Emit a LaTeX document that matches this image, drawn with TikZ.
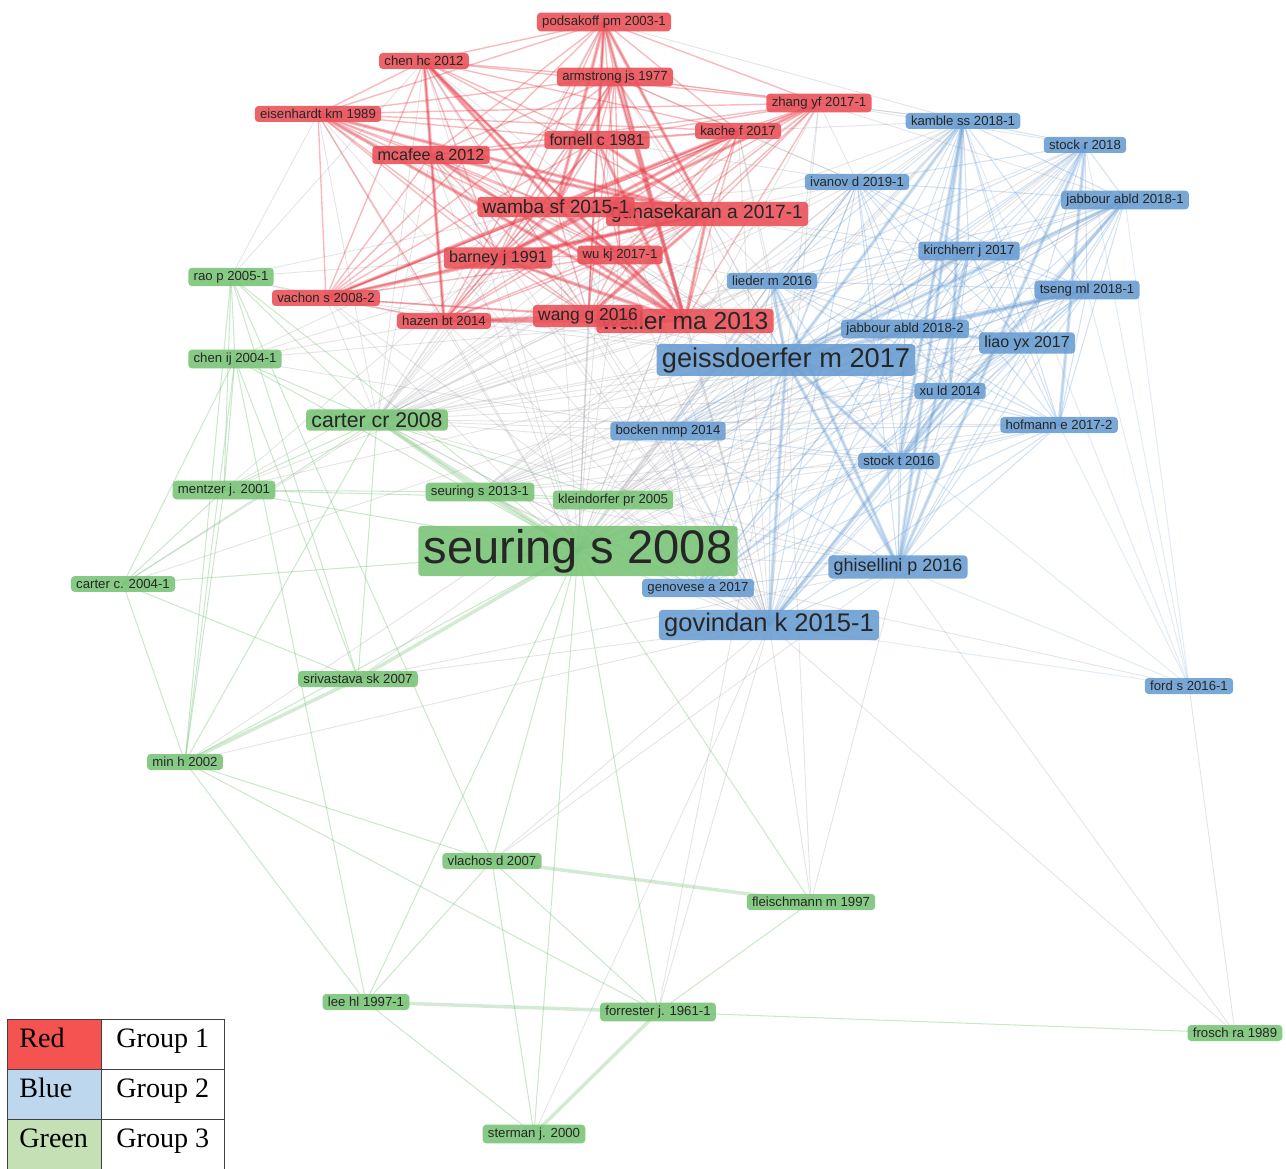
\documentclass[tikz,border=0pt]{standalone}
\usepackage{fontspec}
\setmainfont{Liberation Serif}
\newfontfamily\lblfont{Liberation Sans}
\usetikzlibrary{backgrounds}
\definecolor{redfill}{RGB}{234,82,90}
\definecolor{bluefill}{RGB}{106,158,211}
\definecolor{greenfill}{RGB}{122,196,120}
\definecolor{redline}{RGB}{232,66,78}
\definecolor{blueline}{RGB}{95,150,208}
\definecolor{greenline}{RGB}{110,190,110}
\definecolor{greyline}{RGB}{165,165,172}
\definecolor{legred}{RGB}{245,82,82}
\definecolor{legblue}{RGB}{189,215,238}
\definecolor{leggreen}{RGB}{197,224,180}
\newcommand\redset{pod,chenhc,arm,zhang,eis,kache,fornell,mcafee,guna,wamba,barney,wukj,vachon,hazen,waller,wang}
\newcommand\blueset{kamble,stockr,ivanov,jab1,kirch,lieder,tseng,jab2,liao,geiss,xuld,hofmann,bocken,stockt,ghis,genov,govind}
\begin{document}
\begin{tikzpicture}[
  x=0.02cm, y=-0.02cm,
  paper/.style={rounded corners=2pt, inner xsep=3pt, inner ysep=1.8pt,
    text=black!85, fill opacity=0.9, text opacity=1},
  fs/.style={font=\lblfont\fontsize{#1}{#1}\selectfont},
  rp/.style={paper, fill=redfill, fs=#1}, rp/.default=7.5,
  bp/.style={paper, fill=bluefill, fs=#1}, bp/.default=7.5,
  gp/.style={paper, fill=greenfill, fs=#1}, gp/.default=7.5,
  redlink/.style={draw=redline, line width=0.8pt, draw opacity=0.36},
  bluelink/.style={draw=blueline, line width=0.6pt, draw opacity=0.28},
  greenlink/.style={draw=greenline, line width=0.6pt, draw opacity=0.35},
  greylink/.style={draw=greyline, line width=0.5pt, draw opacity=0.3},
  wide/.style={line width=2pt},
  cell/.style={draw=black!75, line width=0.7pt, inner sep=0pt, minimum height=1cm, anchor=north west},
  legfont/.style={font=\fontsize{16}{16}\selectfont, inner sep=0pt, anchor=base west}
  ]
  \useasboundingbox (0,0) rectangle (1286,1169);

  % group 1
  \node[rp] (pod) at (604,22) {podsakoff pm 2003-1};
  \node[rp] (chenhc) at (424,61) {chen hc 2012};
  \node[rp] (arm) at (615,77) {armstrong js 1977};
  \node[rp] (zhang) at (819,103) {zhang yf 2017-1};
  \node[rp] (eis) at (318,114) {eisenhardt km 1989};
  \node[rp] (kache) at (738,131) {kache f 2017};
  \node[rp=9] (fornell) at (597,140) {fornell c 1981};
  \node[rp=9.2] (mcafee) at (431,155) {mcafee a 2012};
  \node[rp=10.9] (guna) at (707,214) {gunasekaran a 2017-1};
  \node[rp=10.9] (wamba) at (556,207) {wamba sf 2015-1};
  \node[rp=9.2] (barney) at (498,258) {barney j 1991};
  \node[rp] (wukj) at (620,255) {wu kj 2017-1};
  \node[rp] (vachon) at (326,298) {vachon s 2008-2};
  \node[rp] (hazen) at (444,321) {hazen bt 2014};
  \node[rp=14] (waller) at (685,321) {waller ma 2013};
  \node[rp=9.9] (wang) at (588,316) {wang g 2016};

  % group 2
  \node[bp] (kamble) at (963,121) {kamble ss 2018-1};
  \node[bp] (stockr) at (1085,145) {stock r 2018};
  \node[bp] (ivanov) at (857,182) {ivanov d 2019-1};
  \node[bp] (jab1) at (1125,200) {jabbour abld 2018-1};
  \node[bp] (kirch) at (969,251) {kirchherr j 2017};
  \node[bp] (lieder) at (772,281) {lieder m 2016};
  \node[bp] (tseng) at (1087,290) {tseng ml 2018-1};
  \node[bp] (jab2) at (905,329) {jabbour abld 2018-2};
  \node[bp=9.1] (liao) at (1027,343) {liao yx 2017};
  \node[bp=15.5] (geiss) at (786,360) {geissdoerfer m 2017};
  \node[bp] (xuld) at (950,391) {xu ld 2014};
  \node[bp] (hofmann) at (1059,425) {hofmann e 2017-2};
  \node[bp] (bocken) at (668,431) {bocken nmp 2014};
  \node[bp] (stockt) at (899,461) {stock t 2016};
  \node[bp=10.2] (ghis) at (898,567) {ghisellini p 2016};
  \node[bp=14.5] (govind) at (769,625) {govindan k 2015-1};
  \node[bp] (ford) at (1189,686) {ford s 2016-1};

  % group 3
  \node[gp] (rao) at (231,277) {rao p 2005-1};
  \node[gp] (chenij) at (235,359) {chen ij 2004-1};
  \node[gp=12.1] (cartercr) at (377,420) {carter cr 2008};
  \node[gp] (mentzer) at (224,490) {mentzer j. 2001};
  \node[gp] (seu13) at (480,492) {seuring s 2013-1};
  \node[gp] (kleind) at (613,500) {kleindorfer pr 2005};
  \node[gp=26.8] (seu08) at (578,551) {seuring s 2008};
  \node[bp] (genov) at (698,588) {genovese a 2017};
  \node[gp] (carterc) at (123,584) {carter c. 2004-1};
  \node[gp] (sriv) at (358,679) {srivastava sk 2007};
  \node[gp] (minh) at (185,762) {min h 2002};
  \node[gp] (vlachos) at (492,861) {vlachos d 2007};
  \node[gp] (fleisch) at (811,902) {fleischmann m 1997};
  \node[gp] (leehl) at (366,1002) {lee hl 1997-1};
  \node[gp] (forrest) at (658,1012) {forrester j. 1961-1};
  \node[gp] (frosch) at (1235,1033) {frosch ra 1989};
  \node[gp] (sterman) at (534,1134) {sterman j. 2000};

  \begin{pgfonlayer}{background}
    % links between groups
    \foreach \a in {seu08,cartercr,geiss,govind}
      \foreach \b in \redset
        \draw[greylink] (\a.center) -- (\b.center);
    \foreach \a in {seu08,cartercr,seu13,kleind}
      \foreach \b in \blueset
        \draw[greylink] (\a.center) -- (\b.center);
    \foreach \a/\b in {rao/vachon, rao/hazen, rao/barney, rao/wamba, rao/eis, rao/chenhc,
        chenij/wamba, chenij/guna, chenij/waller, chenij/hazen, mentzer/guna, mentzer/geiss,
        carterc/geiss, sriv/govind, sriv/geiss, vlachos/govind, vlachos/ghis, fleisch/govind,
        fleisch/geiss, fleisch/ghis, forrest/govind, forrest/geiss, sterman/govind,
        frosch/ghis, frosch/ford, frosch/govind, minh/geiss, guna/lieder, guna/kamble,
        guna/ivanov, guna/kirch, guna/tseng, waller/kamble, waller/ivanov, waller/lieder,
        zhang/kamble, zhang/stockr, zhang/jab1, zhang/ivanov, kache/kamble, kache/ivanov,
        kache/lieder, wamba/ivanov, pod/kamble, arm/kamble, arm/ivanov, fornell/ivanov,
        wukj/lieder, wukj/geiss, wang/lieder, wang/bocken, ford/seu08, mentzer/wamba,
        carterc/guna, chenij/bocken, mentzer/lieder, sriv/ghis, minh/govind}
      \draw[greylink] (\a.center) -- (\b.center);

    % group 1 links
    \foreach \a [count=\i] in \redset
      \foreach \b [count=\j] in \redset
        {\ifnum\j>\i \draw[redlink] (\a.center) -- (\b.center);\fi}
    \foreach \a/\b in {pod/fornell, pod/wamba, pod/guna, pod/waller, chenhc/wamba,
        chenhc/waller, chenhc/hazen, eis/waller, eis/guna, fornell/waller, fornell/guna,
        mcafee/waller, mcafee/guna, wamba/guna, wamba/waller, guna/waller, barney/waller,
        barney/guna, vachon/kache, vachon/guna, hazen/wang, hazen/waller, wang/guna,
        zhang/barney, kache/barney, arm/waller, arm/wamba}
      \draw[redlink, wide] (\a.center) -- (\b.center);

    % group 2 links
    \foreach \a [count=\i] in \blueset
      \foreach \b [count=\j] in \blueset
        {\ifnum\j>\i \draw[bluelink] (\a.center) -- (\b.center);\fi}
    \foreach \a/\b in {geiss/ghis, geiss/stockt, lieder/ghis, lieder/geiss, kirch/ghis,
        kamble/ghis, kamble/geiss, stockt/jab1, stockt/kamble, stockr/ghis, jab1/geiss,
        tseng/jab2, tseng/geiss, xuld/kamble, xuld/stockt, liao/jab2, hofmann/stockr,
        kirch/geiss, govind/geiss, govind/stockt}
      \draw[bluelink, wide] (\a.center) -- (\b.center);
    \foreach \b in {geiss, kamble, jab1, stockr, hofmann, govind, ghis, tseng}
      \draw[bluelink, draw opacity=0.18] (ford.center) -- (\b.center);

    % group 3 links
    \foreach \a/\b in {rao/chenij, rao/minh, rao/sriv, rao/cartercr, rao/seu08, rao/mentzer,
        rao/vlachos, chenij/carterc, chenij/minh, chenij/sriv, chenij/cartercr, chenij/seu08,
        chenij/mentzer, chenij/leehl, mentzer/seu08, mentzer/seu13, mentzer/carterc,
        mentzer/minh, mentzer/cartercr, mentzer/kleind, carterc/seu08, carterc/minh,
        carterc/cartercr, carterc/sriv, cartercr/kleind, cartercr/sriv, cartercr/minh,
        seu13/kleind, kleind/seu08, seu08/minh, seu08/vlachos, seu08/fleisch, seu08/leehl,
        seu08/forrest, seu08/sterman, minh/leehl, minh/forrest, minh/vlachos,
        vlachos/leehl, vlachos/forrest, vlachos/sterman, fleisch/forrest, leehl/sterman,
        forrest/frosch}
      \draw[greenlink] (\a.center) -- (\b.center);
    \foreach \a/\b in {seu08/cartercr, seu08/seu13, seu08/sriv, sriv/minh, vlachos/fleisch,
        leehl/forrest, forrest/sterman, cartercr/seu13}
      \draw[greenlink, wide, draw opacity=0.3] (\a.center) -- (\b.center);
  \end{pgfonlayer}

  % legend
  \node[cell, fill=legred, minimum width=1.88cm] (redcell) at (7,1019) {};
  \node[cell, minimum width=2.46cm] (onecell) at (101,1019) {};
  \node[cell, fill=legblue, minimum width=1.88cm] (bluecell) at (7,1069) {};
  \node[cell, minimum width=2.46cm] (twocell) at (101,1069) {};
  \node[cell, fill=leggreen, minimum width=1.88cm, minimum height=1.1cm] (greencell) at (7,1119) {};
  \node[cell, minimum width=2.46cm, minimum height=1.1cm] (threecell) at (101,1119) {};
  \node[legfont] (redtxt) at (19,1047) {Red};
  \node[legfont] (onetxt) at (116,1047) {Group 1};
  \node[legfont] (bluetxt) at (19,1097) {Blue};
  \node[legfont] (twotxt) at (116,1097) {Group 2};
  \node[legfont] (greentxt) at (19,1147) {Green};
  \node[legfont] (threetxt) at (116,1147) {Group 3};
\end{tikzpicture}
\end{document}
